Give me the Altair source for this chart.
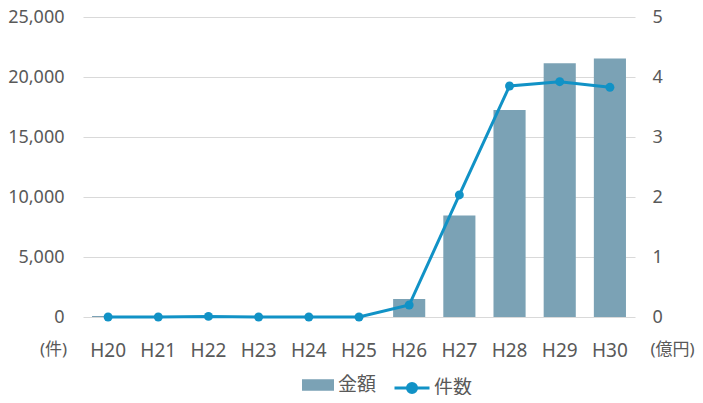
import altair as alt
import pandas as pd

years = ["H20", "H21", "H22", "H23", "H24", "H25", "H26", "H27", "H28", "H29", "H30"]
amount_oku = [0.015, 0, 0.012, 0, 0, 0, 0.30, 1.69, 3.45, 4.23, 4.31]
counts = [0, 0, 50, 0, 0, 0, 1000, 10170, 19250, 19610, 19140]

df = pd.DataFrame({"year": years, "amount": amount_oku, "count": counts,
                   "s1": "金額", "s2": "件数"})

NUMFONT = "Noto Sans, Noto Sans CJK JP"
FONT = "Noto Sans CJK JP"
GREY = "#595959"
BAR = "#7BA2B5"
LINE = "#1192C6"
GRID = "#D9D9D9"

x = alt.X("year:N", sort=years,
          scale=alt.Scale(paddingInner=0.36, paddingOuter=0.18),
          axis=alt.Axis(title=None, labelAngle=0, ticks=False, domain=False,
                        labelPadding=24, labelFontSize=19, labelColor=GREY,
                        labelFont=NUMFONT, grid=False))

bars = alt.Chart(df).mark_bar().encode(
    x=x,
    y=alt.Y("amount:Q", scale=alt.Scale(domain=[0, 5], nice=False),
            axis=alt.Axis(orient="right", values=[0, 1, 2, 3, 4, 5], format="d",
                          grid=False, ticks=False, domain=False, labelPadding=17,
                          labelFontSize=18, labelColor=GREY, labelFont=NUMFONT,
                          title="(億円)", titleAngle=0, titleX=37, titleY=332,
                          titleAlign="center", titleBaseline="middle",
                          titleFontSize=17, titleFontWeight="normal",
                          titleColor=GREY, titleFont=NUMFONT)),
    fill=alt.Fill("s1:N", scale=alt.Scale(domain=["金額"], range=[BAR]),
                  legend=alt.Legend(title=None, orient="none", legendX=219, legendY=352,
                                    symbolType="M-1,-0.36H1V0.36H-1Z", symbolSize=1024,
                                    symbolStrokeWidth=0, labelOffset=4,
                                    labelFontSize=19, labelColor=GREY, labelFont=FONT,
                                    padding=0))
)

line = alt.Chart(df).mark_line(
    strokeWidth=3,
    point=alt.OverlayMarkDef(size=80, filled=True, color=LINE)
).encode(
    x=x,
    y=alt.Y("count:Q", scale=alt.Scale(domain=[0, 25000], nice=False),
            axis=alt.Axis(orient="left", values=[0, 5000, 10000, 15000, 20000, 25000],
                          format=",d", grid=True, gridColor=GRID, gridWidth=1,
                          ticks=False, domain=False, labelPadding=19,
                          labelFontSize=18, labelColor=GREY, labelFont=NUMFONT,
                          title="(件)", titleAngle=0, titleX=-30, titleY=332,
                          titleAlign="center", titleBaseline="middle",
                          titleFontSize=17, titleFontWeight="normal",
                          titleColor=GREY, titleFont=NUMFONT)),
    color=alt.Color("s2:N", scale=alt.Scale(domain=["件数"], range=[LINE]),
                    legend=alt.Legend(title=None, orient="none", legendX=310, legendY=352,
                                      symbolType="M-1,0H1M0.26,0A0.26,0.26,0,1,1,-0.26,0A0.26,0.26,0,1,1,0.26,0",
                                      symbolSize=1225, symbolStrokeWidth=3,
                                      symbolFillColor=LINE, labelOffset=3,
                                      labelFontSize=19, labelColor=GREY, labelFont=FONT,
                                      padding=0))
)

chart = alt.layer(bars, line).resolve_scale(y="independent").properties(
    width=552, height=300,
    padding={"left": 75, "top": 9, "right": 60, "bottom": 78},
    autosize=alt.AutoSizeParams(type="none")
).configure_view(stroke=None)

chart.save("out.html", embed_options={"renderer": "svg", "actions": False})
